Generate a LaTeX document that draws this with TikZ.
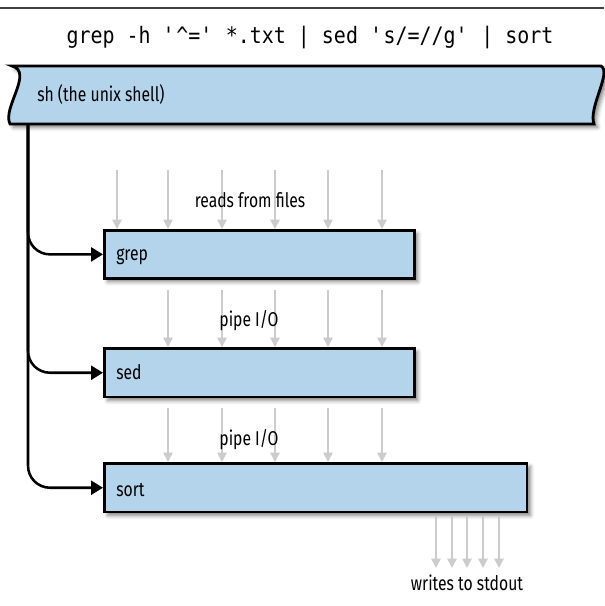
\documentclass[tikz,border=0pt]{standalone}
\usepackage{fontspec}
\setmainfont[FakeStretch=0.785]{Fira Sans}
\newfontfamily\codefont[FakeStretch=0.88]{DejaVu Sans Mono}
\usetikzlibrary{arrows.meta,shadows.blur}
\definecolor{boxblue}{HTML}{B3D4EA}
\definecolor{arrgray}{HTML}{CCCCCC}
\begin{document}
\begin{tikzpicture}[x=0.75pt,y=-0.75pt,
  myshadow/.style={blur shadow={shadow xshift=2.5pt, shadow yshift=-2.5pt, shadow blur radius=3pt, shadow opacity=50}},
  box/.style={draw=black, line width=2.1pt, fill=boxblue, rectangle, anchor=north west, inner sep=0pt, myshadow},
  lbl/.style={font=\fontsize{15}{18}\selectfont, inner sep=0pt, anchor=base west},
  captxt/.style={font=\fontsize{15}{18}\selectfont, inner sep=0pt, anchor=base},
  feed/.style={draw=arrgray, line width=1.2pt, -{Triangle[length=7pt,width=7pt]}},
  conn/.style={draw=black, line width=1.9pt, rounded corners=16.5pt, -{Triangle[length=9pt,width=10.5pt]}}
]
\useasboundingbox (0,0) rectangle (604,606);
% top rule
\coordinate (tl) at (0,8);
\coordinate (tr) at (604,8);
\draw[black!75, line width=0.8pt] (tl) -- (tr);
% command
\node[font=\codefont\fontsize{17}{20}\selectfont, anchor=base, inner sep=0pt] (cmd) at (310,44)
  {grep -h \textquotesingle\textasciicircum=\textquotesingle{} *.txt | sed \textquotesingle s/=//g\textquotesingle{} | sort};
% banner
\path[fill=boxblue, draw=black, line width=2.1pt, myshadow]
  (12,66) -- (601,66) .. controls (612,72) and (588,108) .. (594,124)
  -- (10,124) .. controls (2,108) and (34,72) .. (12,66) -- cycle;
\node[lbl] (shL) at (37,102) {sh (the unix shell)};
% boxes
\node[box, minimum width=232.5pt, minimum height=36pt] (grep) at (103,229) {};
\node[box, minimum width=232.5pt, minimum height=36.5pt] (sed) at (103,347) {};
\node[box, minimum width=317pt, minimum height=36.5pt] (sort) at (103,462) {};
\node[lbl] (grepL) at (116,260) {grep};
\node[lbl] (sedL) at (116,379) {sed};
\node[lbl] (sortL) at (116,496) {sort};
% trunk and branches
\coordinate (trunk) at (28,124);
\draw[conn] (trunk) |- (grep.west);
\draw[conn] (trunk) |- (sed.west);
\draw[conn] (trunk) |- (sort.west);
% input arrows
\foreach \x [count=\i] in {117,168,222,275,328,382} {
  \coordinate (r\i) at (\x,170);
  \draw[feed] (r\i) -- (r\i |- grep.north);
}
\foreach \x [count=\i] in {168,222,275,328,382} {
  \coordinate (p\i) at (\x,290);
  \draw[feed] (p\i) -- (p\i |- sed.north);
  \coordinate (q\i) at (\x,408);
  \draw[feed] (q\i) -- (q\i |- sort.north);
}
\foreach \x [count=\i] in {436,452,467,483,499} {
  \coordinate (w\i) at (\x,568);
  \draw[feed, shorten <=2pt] (w\i |- sort.south) -- (w\i);
}
\node[captxt] (readsL) at (250,207) {reads from files};
\node[captxt] (pipe1) at (249,326) {pipe I/O};
\node[captxt] (pipe2) at (249,445) {pipe I/O};
\node[captxt] (stdoutL) at (467,590) {writes to stdout};
\end{tikzpicture}
\end{document}
